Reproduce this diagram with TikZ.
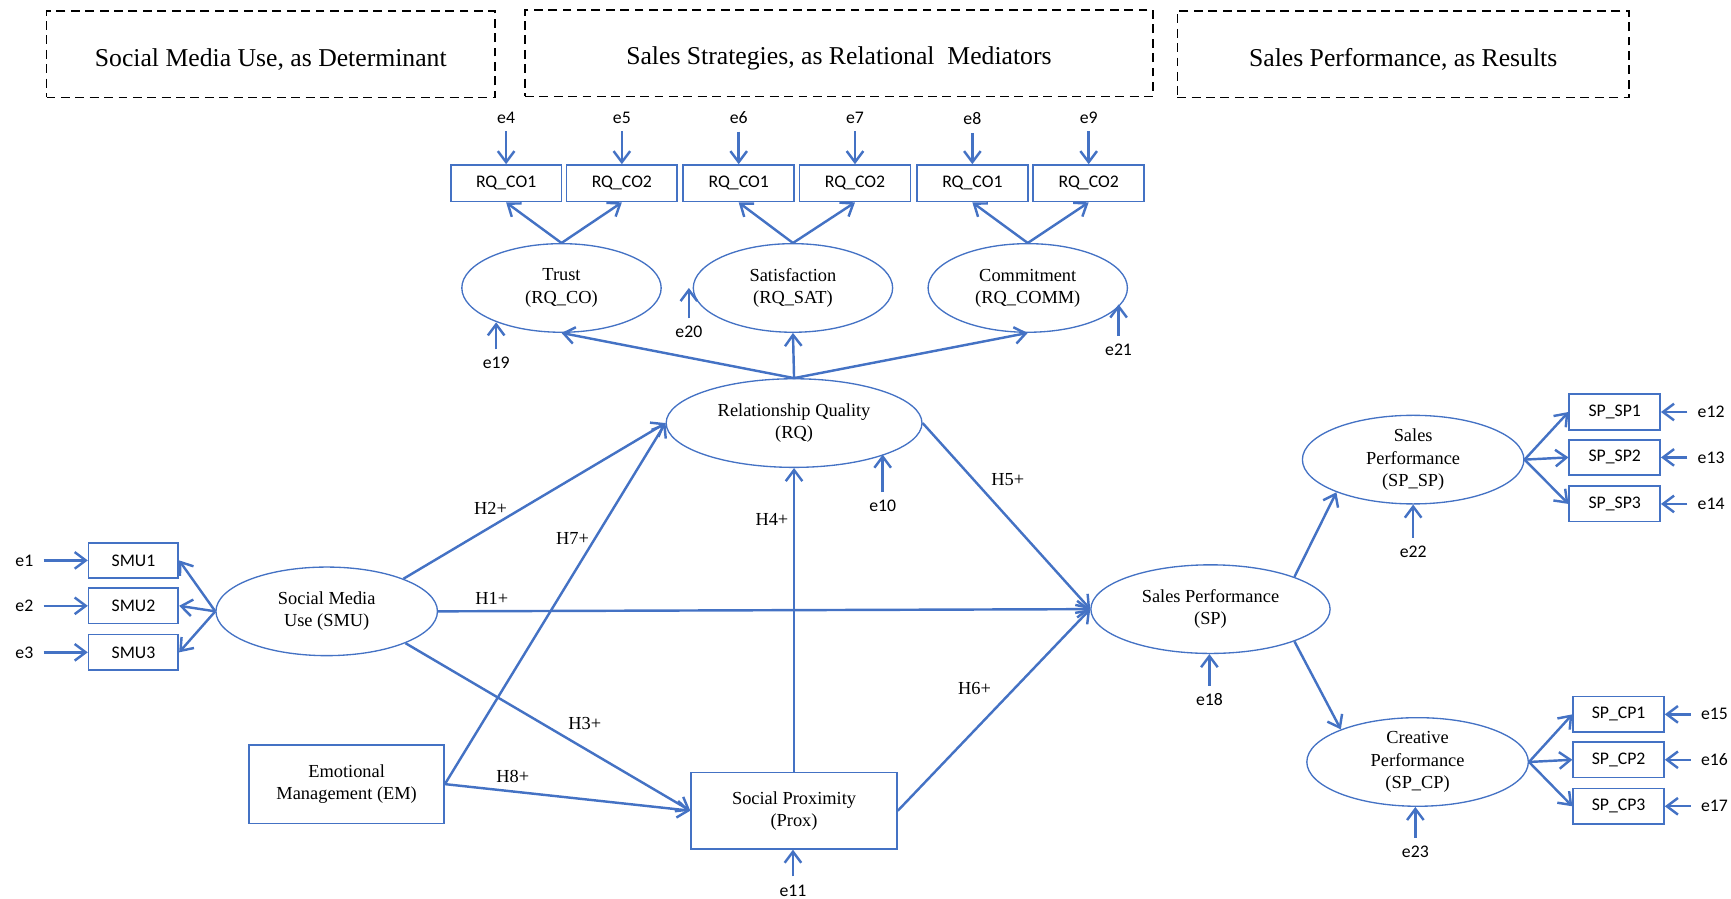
\documentclass[tikz,border=0pt]{standalone}
\usepackage{fontspec}
\setmainfont{Liberation Serif}
\setsansfont{Carlito}
\usetikzlibrary{arrows.meta,shapes.geometric}
\definecolor{amosblue}{RGB}{68,114,196}

\tikzset{
    latent/.style={ellipse, draw=amosblue, line width=0.6pt, inner sep=0pt, minimum width=100pt, minimum height=40pt, align=center, font=\fontsize{8.3}{10}\selectfont},
    construct/.style={rectangle, draw=amosblue, line width=0.7pt, inner sep=0pt, align=center, font=\fontsize{8.3}{10}\selectfont},
    observed/.style={rectangle, draw=amosblue, line width=0.75pt, inner sep=0pt, minimum width=50pt, minimum height=16.5pt, font=\sffamily\fontsize{8}{9.6}\selectfont},
    errlabel/.style={inner sep=1.5pt, font=\sffamily\fontsize{8}{9.6}\selectfont},
    header/.style={rectangle, draw=black, dash pattern=on 4pt off 2.5pt, line width=0.6pt, minimum height=39pt, text height=13pt, font=\fontsize{11.6}{14}\selectfont},
    regpath/.style={draw=amosblue, line width=1.1pt, -{Straight Barb[length=5pt, width=7.5pt]}},
    hyp/.style={inner sep=0pt, font=\fontsize{8.3}{10}\selectfont}
}

\begin{document}
\begin{tikzpicture}[x=0.5pt, y=-0.5pt]
        \useasboundingbox (0,0) rectangle (1563,811);

        % column headers
        \node[header, minimum width=202.5pt] (hdet) at (244.5,49) {Social Media Use, as Determinant};
        \node[header, minimum width=283.5pt] (hmed) at (757.5,48) {Sales Strategies, as Relational~ Mediators};
        \node[header, minimum width=204pt] (hres) at (1267,49) {Sales Performance, as Results};

        % relationship quality indicators
        \node[observed] (trust1) at (457,165.5) {RQ\_CO1};
        \node[observed] (trust2) at (561.5,165.5) {RQ\_CO2};
        \node[observed] (sat1) at (667,165.5) {RQ\_CO1};
        \node[observed] (sat2) at (772,165.5) {RQ\_CO2};
        \node[observed] (comm1) at (878,165.5) {RQ\_CO1};
        \node[observed] (comm2) at (983,165.5) {RQ\_CO2};

        \node[latent, minimum width=90pt] (trust) at (507,260) {Trust\\(RQ\_CO)};
        \node[latent, minimum width=90pt] (sat) at (716,260) {Satisfaction\\(RQ\_SAT)};
        \node[latent, minimum width=90pt] (comm) at (928,260) {Commitment\\(RQ\_COMM)};
        \node[latent, minimum width=115.5pt] (rq) at (717,382) {Relationship Quality\\(RQ)};
        \node[latent] (smu) at (295,552) {Social Media\\Use (SMU)};
        \node[latent, minimum width=108pt] (sp) at (1093,550) {Sales Performance\\(SP)};
        \node[latent] (spsp) at (1276,415) {Sales\\Performance\\(SP\_SP)};
        \node[latent] (spcp) at (1280,688) {Creative\\Performance\\(SP\_CP)};

        \node[construct, minimum width=88pt, minimum height=35.5pt] (em) at (313,708) {Emotional\\Management (EM)};
        \node[construct, minimum width=93pt, minimum height=34.5pt] (prox) at (717,732) {Social Proximity\\(Prox)};

        \node[observed, minimum width=40.5pt, minimum height=16pt] (smu1) at (120.5,506) {SMU1};
        \node[observed, minimum width=40.5pt, minimum height=16pt] (smu2) at (120.5,547) {SMU2};
        \node[observed, minimum width=40.5pt, minimum height=16pt] (smu3) at (120.5,589) {SMU3};

        \node[observed, minimum width=41pt, minimum height=16pt] (spsp1) at (1458,372) {SP\_SP1};
        \node[observed, minimum width=41pt, minimum height=16pt] (spsp2) at (1458,413) {SP\_SP2};
        \node[observed, minimum width=41pt, minimum height=16pt] (spsp3) at (1458,455) {SP\_SP3};
        \node[observed, minimum width=41pt, minimum height=16pt] (spcp1) at (1461.5,645) {SP\_CP1};
        \node[observed, minimum width=41pt, minimum height=16pt] (spcp2) at (1461.5,686) {SP\_CP2};
        \node[observed, minimum width=41pt, minimum height=16pt] (spcp3) at (1461.5,728) {SP\_CP3};

        % error terms
        \node[errlabel] (e1) at (22,506) {e1};
        \node[errlabel] (e2) at (22,547) {e2};
        \node[errlabel] (e3) at (22,589) {e3};
        \node[errlabel] (e4) at (457,106) {e4};
        \node[errlabel] (e5) at (561.5,106) {e5};
        \node[errlabel] (e6) at (667,106) {e6};
        \node[errlabel] (e7) at (772,106) {e7};
        \node[errlabel] (e8) at (878,107) {e8};
        \node[errlabel] (e9) at (983,106) {e9};
        \node[errlabel] (e10) at (797,457) {e10};
        \node[errlabel] (e11) at (716,804) {e11};
        \node[errlabel] (e12) at (1545,372) {e12};
        \node[errlabel] (e13) at (1545,413) {e13};
        \node[errlabel] (e14) at (1545,455) {e14};
        \node[errlabel] (e15) at (1548,645) {e15};
        \node[errlabel] (e16) at (1548,686) {e16};
        \node[errlabel] (e17) at (1548,728) {e17};
        \node[errlabel] (e18) at (1092,632) {e18};
        \node[errlabel] (e19) at (448,328) {e19};
        \node[errlabel] (e20) at (622,300) {e20};
        \node[errlabel] (e21) at (1010,316) {e21};
        \node[errlabel] (e22) at (1276,498) {e22};
        \node[errlabel] (e23) at (1278,769) {e23};

        \draw[regpath, shorten <=3pt] (e1) -- (smu1);
        \draw[regpath, shorten <=3pt] (e2) -- (smu2);
        \draw[regpath, shorten <=3pt] (e3) -- (smu3);
        \draw[regpath, shorten <=2pt] (e4) -- (trust1);
        \draw[regpath, shorten <=2pt] (e5) -- (trust2);
        \draw[regpath, shorten <=2pt] (e6) -- (sat1);
        \draw[regpath, shorten <=2pt] (e7) -- (sat2);
        \draw[regpath, shorten <=2pt] (e8) -- (comm1);
        \draw[regpath, shorten <=2pt] (e9) -- (comm2);
        \draw[regpath, shorten <=2pt] (e10) -- (e10 |- rq.-19);
        \draw[regpath, shorten <=2pt] (e11) -- (e11 |- prox.south);
        \draw[regpath, shorten <=3pt] (e12) -- (spsp1);
        \draw[regpath, shorten <=3pt] (e13) -- (spsp2);
        \draw[regpath, shorten <=3pt] (e14) -- (spsp3);
        \draw[regpath, shorten <=3pt] (e15) -- (spcp1);
        \draw[regpath, shorten <=3pt] (e16) -- (spcp2);
        \draw[regpath, shorten <=3pt] (e17) -- (spcp3);
        \draw[regpath, shorten <=2pt] (e18) -- (e18 |- sp.south);
        \draw[regpath, shorten <=2pt] (e19) -- (e19 |- trust.208);
        \draw[regpath, shorten <=2pt] (e20) -- (e20 |- sat.west);
        \draw[regpath, shorten <=2pt] (e21) -- (e21 |- comm.-10);
        \draw[regpath, shorten <=2pt] (e22) -- (spsp);
        \draw[regpath, shorten <=2pt] (e23) -- (e23 |- spcp.south);

        % measurement paths
        \draw[regpath] (trust.north) -- (trust1.south);
        \draw[regpath] (trust.north) -- (trust2.south);
        \draw[regpath] (sat.north) -- (sat1.south);
        \draw[regpath] (sat.north) -- (sat2.south);
        \draw[regpath] (comm.north) -- (comm1.south);
        \draw[regpath] (comm.north) -- (comm2.south);
        \draw[regpath] (rq.north) -- (trust.south);
        \draw[regpath] (rq.north) -- (sat.south);
        \draw[regpath] (rq.north) -- (comm.south);
        \draw[regpath] (smu.west) -- (smu1.east);
        \draw[regpath] (smu.west) -- (smu2.east);
        \draw[regpath] (smu.west) -- (smu3.east);
        \draw[regpath] (spsp.east) -- (spsp1.west);
        \draw[regpath] (spsp.east) -- (spsp2.west);
        \draw[regpath] (spsp.east) -- (spsp3.west);
        \draw[regpath] (spcp.east) -- (spcp1.west);
        \draw[regpath] (spcp.east) -- (spcp2.west);
        \draw[regpath] (spcp.east) -- (spcp3.west);
        \draw[regpath] (sp.21) -- (spsp.203);
        \draw[regpath] (sp.-21) -- (spcp.157);

        % hypotheses
        \draw[regpath] (smu.east) -- (sp.west);
        \draw[regpath] (smu.23) -- (rq.west);
        \draw[regpath] (smu.-22) -- (prox.west);
        \draw[regpath] (prox.north) -- (rq.south);
        \draw[regpath] (rq.east) -- (sp.west);
        \draw[regpath] (prox.east) -- (sp.west);
        \draw[regpath] (em.east) -- (rq.west);
        \draw[regpath] (em.east) -- (prox.west);

        \node[hyp] (h1) at (444,540) {H1+};
        \node[hyp] (h2) at (443,459) {H2+};
        \node[hyp] (h3) at (528,653) {H3+};
        \node[hyp] (h4) at (697,469) {H4+};
        \node[hyp] (h5) at (910,433) {H5+};
        \node[hyp] (h6) at (880,622) {H6+};
        \node[hyp] (h7) at (517,486) {H7+};
        \node[hyp] (h8) at (463,701) {H8+};
\end{tikzpicture}
\end{document}
